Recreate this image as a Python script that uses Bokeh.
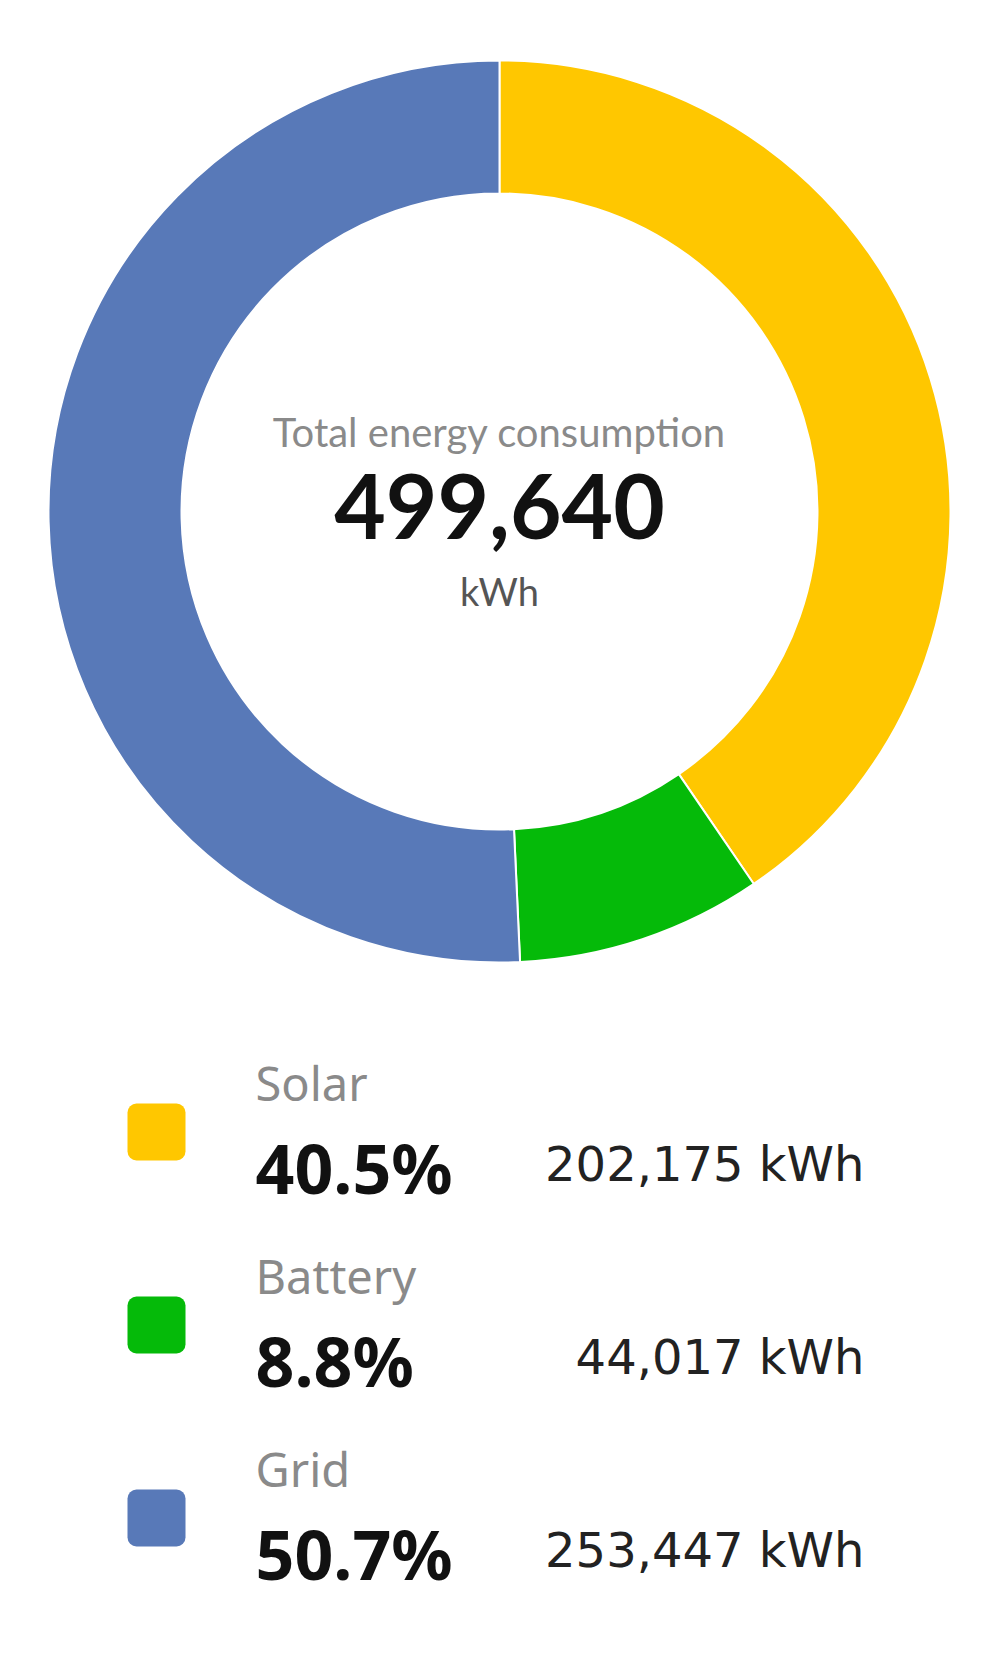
import numpy as np
from bokeh.plotting import figure
from bokeh.models import Range1d, ColumnDataSource
from bokeh.core.properties import value
from bokeh.embed import file_html
from bokeh.resources import INLINE

# ---- data ----
categories = ["Solar", "Battery", "Grid"]
energy_kwh = [202175, 44017, 253447]
percent_labels = ["40.5%", "8.8%", "50.7%"]
kwh_labels = ["202,175 kWh", "44,017 kWh", "253,447 kWh"]
colors = ["#FFC700", "#05BA09", "#5879B8"]
total_label = "499,640"

W, H = 977, 1638
p = figure(width=W, height=H, output_backend="svg", toolbar_location=None,
           x_range=Range1d(0, W), y_range=Range1d(0, H),
           x_axis_location=None, y_axis_location=None, min_border=0,
           outline_line_color=None, background_fill_color="white",
           border_fill_color="white")
p.grid.visible = False

def X(ref_x):
    return ref_x - 1

def Y(ref_y):  # reference pixel row -> data y
    return H + 1.5 - ref_y

def TB(ref_baseline, size):  # text baseline correction
    return Y(ref_baseline - 0.34 * size)

# donut
vals = np.array(energy_kwh, dtype=float)
frac = vals / vals.sum()
cum = np.concatenate([[0], np.cumsum(frac)])
start = np.pi / 2 - 2 * np.pi * cum[:-1]
end = np.pi / 2 - 2 * np.pi * cum[1:]
cx, cy = X(500), Y(512.5)
src = ColumnDataSource(dict(start=start, end=end, color=colors, cat=categories))
p.annular_wedge(x=cx, y=cy, inner_radius=318, outer_radius=451,
                start_angle="start", end_angle="end", direction="clock",
                fill_color="color", line_color="white", line_width=2, source=src)

center_font = value("Lato")
p.text(x=[cx], y=[TB(446.5, 40)], text=["Total energy consumption"], text_align="center",
       text_baseline="alphabetic", text_font=center_font, text_font_size="40px",
       text_color="#8a8a8a")
p.text(x=[cx], y=[TB(538, 89)], text=[total_label], text_align="center",
       text_baseline="alphabetic", text_font=center_font, text_font_size="89px",
       text_font_style="bold", text_color="#111111")
p.text(x=[cx], y=[TB(605, 38)], text=["kWh"], text_align="center",
       text_baseline="alphabetic", text_font=center_font, text_font_size="38px",
       text_color="#555555")

# legend
row_step = 193
sw_cy = np.array([Y(1133 + i * row_step) for i in range(3)])
lab_y = np.array([TB(1100 + i * row_step, 47) for i in range(3)])
pct_y = np.array([TB(1192 + i * row_step, 68) for i in range(3)])
kwh_y = np.array([TB(1181 + i * row_step, 48) for i in range(3)])
lsrc = ColumnDataSource(dict(cat=categories, pct=percent_labels, kwh=kwh_labels,
                             color=colors, top=sw_cy + 28.5, bottom=sw_cy - 28.5,
                             laby=lab_y, pcty=pct_y, kwhy=kwh_y))
p.quad(left=X(128), right=X(186), top="top", bottom="bottom", fill_color="color",
       line_color=None, border_radius=9, source=lsrc)
leg_font = value("Noto Sans")
p.text(x=X(256), y="laby", text="cat", text_baseline="alphabetic", text_font=leg_font,
       text_font_size="47px", text_color="#8a8a8a", source=lsrc)
p.text(x=X(256), y="pcty", text="pct", text_baseline="alphabetic", text_font=leg_font,
       text_font_size="68px", text_font_style="bold", text_color="#111111", source=lsrc)
p.text(x=X(865), y="kwhy", text="kwh", text_align="right", text_baseline="alphabetic",
       text_font=value("DejaVu Sans"), text_font_size="48px", text_color="#222222",
       source=lsrc)

open("out.html", "w").write(file_html(p, INLINE))
